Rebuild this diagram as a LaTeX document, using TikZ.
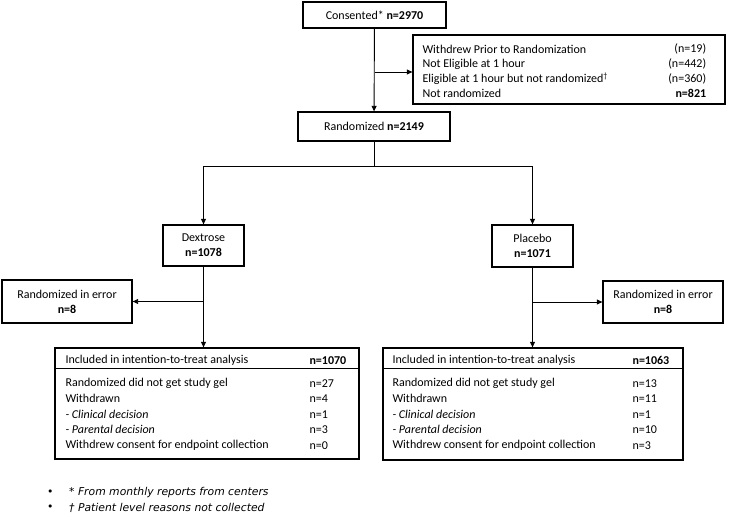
\documentclass[tikz,border=0pt]{standalone}
\usepackage{fontspec}
\setmainfont{Carlito}
\newfontfamily\notefont{DejaVu Sans}
\usetikzlibrary{arrows.meta, calc}

\tikzset{
  box/.style={draw, line width=1.3pt, align=center, inner sep=0pt},
  flow/.style={line width=0.9pt, -{Triangle[length=5.5pt, width=5pt]}},
  link/.style={line width=0.9pt},
  row/.style={anchor=west, inner sep=0pt},
  val/.style={anchor=east, inner sep=0pt},
  note/.style={anchor=west, inner sep=0pt, font=\notefont\fontsize{10.8}{13}\selectfont}
}

\begin{document}
\begin{tikzpicture}[x=1pt, y=-1pt, font=\fontsize{12}{15}\selectfont]
  \useasboundingbox (0,0) rectangle (735,513);

  % Enrolment
  \node[box, minimum width=143, minimum height=26] (consent) at (374.5,15) {Consented* \textbf{n=2970}};
  \node[box, minimum width=312, minimum height=69] (withdrew) at (569,69.5) {};
  \node[box, minimum width=152, minimum height=29] (rand) at (374,126.5) {Randomized \textbf{n=2149}};

  % Reasons not randomized
  \foreach \i/\lbl/\val in {
    0/Withdrew Prior to Randomization/(n=19),
    1/Not Eligible at 1 hour/(n=442),
    2/Eligible at 1 hour but not randomized\textsuperscript{†}/(n=360),
    3/Not randomized/\textbf{n=821}
  } {
    \node[row] (wl\i) at ($(withdrew.north west)+(10,15+14.7*\i)$) {\lbl};
    \node[val] (wv\i) at ($(withdrew.north west)+(294,15+14.7*\i)$) {\val};
  }

  % Arms
  \node[box, minimum width=81, minimum height=41] (dex) at (203.5,245.5) {Dextrose\\\textbf{n=1078}};
  \node[box, minimum width=81, minimum height=42] (plac) at (532.5,246) {Placebo\\\textbf{n=1071}};

  \node[box, minimum width=130, minimum height=43] (err1) at (67,301.5) {Randomized in error\\\textbf{n=8}};
  \node[box, minimum width=120, minimum height=42] (err2) at (663,302) {Randomized in error\\\textbf{n=8}};

  % Intention-to-treat boxes
  \node[box, minimum width=304, minimum height=111] (itt1) at (207,403.5) {};
  \node[box, minimum width=300, minimum height=112] (itt2) at (533,404) {};
  \draw[line width=1.3pt] ([yshift=-21pt]itt1.north west) -- ([yshift=-21pt]itt1.north east);
  \draw[line width=1.3pt] ([yshift=-21pt]itt2.north west) -- ([yshift=-21pt]itt2.north east);

  \node[row] (h1) at ($(itt1.north west)+(11,13)$) {Included in intention-to-treat analysis};
  \node[row] (hv1) at ($(itt1.north west)+(255,13)$) {\textbf{n=1070}};
  \node[row] (h2) at ($(itt2.north west)+(10,13)$) {Included in intention-to-treat analysis};
  \node[row] (hv2) at ($(itt2.north west)+(250,13)$) {\textbf{n=1063}};

  \foreach \i/\lbl/\val in {
    0/Randomized did not get study gel/n=27,
    1/Withdrawn/n=4,
    2/\textit{- Clinical decision}/n=1,
    3/\textit{- Parental decision}/n=3,
    4/Withdrew consent for endpoint collection/n=0
  } {
    \node[row] (al\i) at ($(itt1.north west)+(11,36+15.5*\i)$) {\lbl};
    \node[row] (av\i) at ($(itt1.north west)+(255,36+15.5*\i)$) {\val};
  }

  \foreach \i/\lbl/\val in {
    0/Randomized did not get study gel/n=13,
    1/Withdrawn/n=11,
    2/\textit{- Clinical decision}/n=1,
    3/\textit{- Parental decision}/n=10,
    4/Withdrew consent for endpoint collection/n=3
  } {
    \node[row] (bl\i) at ($(itt2.north west)+(10,36+15.5*\i)$) {\lbl};
    \node[row] (bv\i) at ($(itt2.north west)+(250,36+15.5*\i)$) {\val};
  }

  % Connectors
  \coordinate (split0) at (consent.south |- 0,72);
  \coordinate (branch) at (rand.south |- 0,166);
  \coordinate (split1) at (dex.south |- 0,301.5);
  \coordinate (split2) at (plac.south |- 0,302);

  \draw[flow] (consent) -- (rand);
  \draw[flow] (split0) -- (split0 -| withdrew.west);
  \draw[link] (rand) -- (branch);
  \draw[flow] (branch) -| (dex);
  \draw[flow] (branch) -| (plac);
  \draw[flow] (dex) -- (dex |- itt1.north);
  \draw[flow] (plac) -- (plac |- itt2.north);
  \draw[flow] (split1) -- (err1);
  \draw[flow] (split2) -- (err2);

  % Footnotes
  \node[note] (b1) at (47,493) {•};
  \node[note] (n1) at (69,493) {\itshape * From monthly reports from centers};
  \node[note] (b2) at (47,508) {•};
  \node[note] (n2) at (69,508) {\itshape † Patient level reasons not collected};
\end{tikzpicture}
\end{document}
